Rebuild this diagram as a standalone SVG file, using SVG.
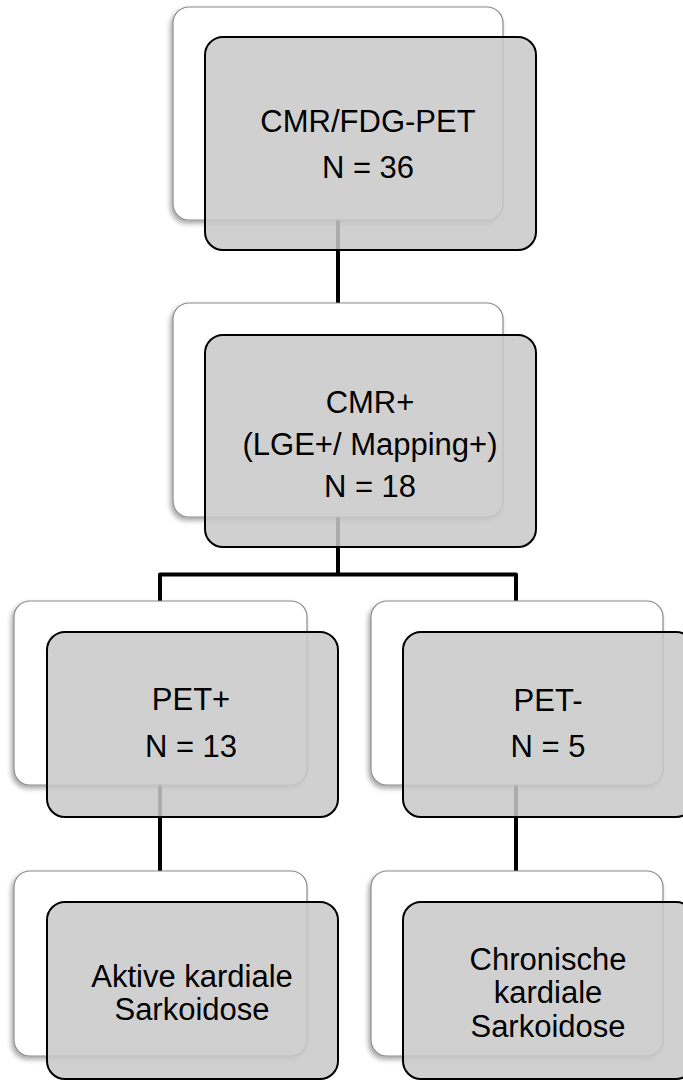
<svg xmlns="http://www.w3.org/2000/svg" width="683" height="1081" viewBox="0 0 683 1081">
<style>
.back{fill:#ffffff;stroke:#8a8a8a;stroke-width:1.2;filter:url(#sh)}
.front{fill:#c8c8c8;fill-opacity:0.86;stroke:#000;stroke-width:2}
.t{font-family:"Liberation Sans",Arial,sans-serif;font-size:31px;fill:#000;text-anchor:middle}
.c{fill:none;stroke:#000;stroke-width:4;stroke-linejoin:round}
</style>
<defs>
<filter id="sh" x="-10%" y="-10%" width="120%" height="125%">
<feDropShadow dx="-2" dy="3" stdDeviation="2.5" flood-color="#000" flood-opacity="0.35"/>
</filter>
</defs>
<rect width="683" height="1081" fill="#fff"/>
<g id="connectors">
<path class="c" d="M338 220 V303"/>
<path class="c" d="M338 517 V574.5 M160 601 V574.5 H516 V601"/>
<path class="c" d="M160 785 V871"/>
<path class="c" d="M516 785 V871"/>
</g>
<g id="n1">
<rect class="back" x="173" y="7" width="330" height="213" rx="16"/>
<rect class="front" x="205" y="37" width="331" height="213" rx="18"/>
<text class="t" x="368" y="132">CMR/FDG-PET</text>
<text class="t" x="368" y="178">N = 36</text>
</g>
<g id="n2">
<rect class="back" x="173" y="303" width="330" height="214" rx="16"/>
<rect class="front" x="205" y="335" width="331" height="212" rx="18"/>
<text class="t" x="370" y="413">CMR+</text>
<text class="t" x="370" y="455">(LGE+/ Mapping+)</text>
<text class="t" x="370" y="497">N = 18</text>
</g>
<g id="n3">
<rect class="back" x="14" y="601" width="293" height="184" rx="16"/>
<rect class="front" x="47" y="632" width="291" height="185" rx="18"/>
<text class="t" x="191" y="710">PET+</text>
<text class="t" x="191" y="757">N = 13</text>
</g>
<g id="n4">
<rect class="back" x="371" y="601" width="292" height="184" rx="16"/>
<rect class="front" x="403" y="632" width="291" height="185" rx="18"/>
<text class="t" x="548" y="711">PET-</text>
<text class="t" x="548" y="757">N = 5</text>
</g>
<g id="n5">
<rect class="back" x="14" y="871" width="293" height="185" rx="16"/>
<rect class="front" x="47" y="902" width="291" height="177" rx="18"/>
<text class="t" x="192" y="987">Aktive kardiale</text>
<text class="t" x="192" y="1020">Sarkoidose</text>
</g>
<g id="n6">
<rect class="back" x="371" y="871" width="292" height="185" rx="16"/>
<rect class="front" x="403" y="902" width="291" height="177" rx="18"/>
<text class="t" x="548" y="970">Chronische</text>
<text class="t" x="548" y="1003">kardiale</text>
<text class="t" x="548" y="1037">Sarkoidose</text>
</g>
</svg>
